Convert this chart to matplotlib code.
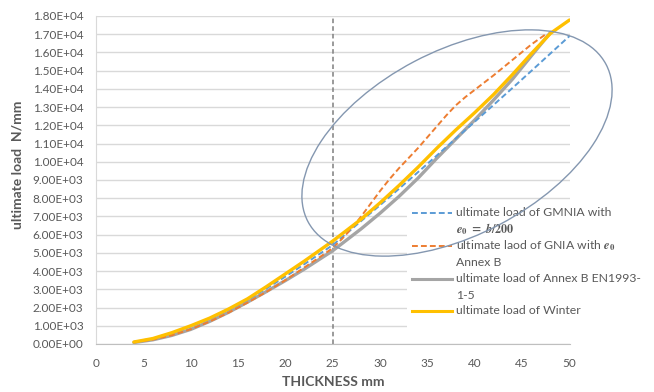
import matplotlib
matplotlib.use("Agg")
import matplotlib.pyplot as plt
from matplotlib.patches import Ellipse, Rectangle
from matplotlib.lines import Line2D
from matplotlib.transforms import IdentityTransform
from matplotlib.ticker import FuncFormatter, MultipleLocator

# ---- data (thickness in mm, ultimate load in N/mm) ----
thickness = [4, 6, 8, 10, 12, 14, 16, 18, 20, 22, 25, 28, 30, 32, 34, 36, 38,
             40, 42, 44, 46, 48, 50]
gmnia_b200 = [120, 300, 590, 960, 1380, 1870, 2420, 3050, 3700, 4380, 5430,
              6750, 7620, 8520, 9430, 10350, 11280, 12200, 13130, 14060,
              15000, 15950, 16900]
winter = [110, 300, 620, 1000, 1420, 1920, 2480, 3150, 3850, 4550, 5650,
          6850, 7750, 8700, 9700, 10750, 11750, 12700, 13700, 14800, 15950,
          17050, 17780]

thickness_annex = [4, 6, 8, 10, 12, 14, 16, 18, 20, 22, 25, 28, 30, 32, 34,
                   36, 38, 40, 42, 44, 46, 48]
annex_b = [80, 230, 470, 800, 1240, 1740, 2300, 2880, 3480, 4110, 5120, 6320,
           7180, 8100, 9100, 10200, 11250, 12300, 13400, 14550, 15830, 17100]

thickness_gnia = [4, 6, 8, 10, 12, 14, 16, 18, 20, 22, 24, 25, 26, 27, 28, 29,
                  30, 31, 32, 33, 34, 35, 36, 37, 38, 39, 40, 41, 42, 44, 46,
                  47.5]
gnia_annex_b = [90, 240, 480, 810, 1230, 1720, 2270, 2860, 3500, 4200, 4900,
                5270, 5780, 6350, 7000, 7700, 8400, 9050, 9650, 10200, 10750,
                11350, 11950, 12550, 13100, 13550, 13950, 14350, 14750, 15600,
                16450, 17000]

reference_thickness = 25

E0 = r"\mathbfit{e}_{\mathbf{0}}"
legend_labels = [
    ["ultimate load of GMNIA with", r"$" + E0 + r"\mathbf{\ =\ }\mathbfit{b}\mathbf{/200}$"],
    [r"ultimate laod of GNIA with $" + E0 + r"$", "Annex B"],
    ["ultimate load of Annex B EN1993-", "1-5"],
    ["ultimate load of Winter"],
]

# ---- style ----
W, H = 654, 392
plt.rcParams["font.family"] = ["Lato", "DejaVu Sans"]
plt.rcParams["mathtext.fontset"] = "stix"
text_color = "#595959"
c_blue, c_orange, c_gray, c_yellow = "#5b9bd5", "#ed7d31", "#a5a5a5", "#ffc000"

fig = plt.figure(figsize=(W / 100, H / 100), dpi=100)


def fx(px):
    return px / W


def fy(py):
    return 1 - py / H


ax = fig.add_axes([fx(96), fy(344), fx(569.5) - fx(96), fy(16) - fy(344)])
ax.set_xlim(0, 50)
ax.set_ylim(0, 18000)
ax.xaxis.set_major_locator(MultipleLocator(5))
ax.yaxis.set_major_locator(MultipleLocator(1000))
ax.yaxis.set_major_formatter(FuncFormatter(lambda v, p: "{:.2E}".format(v)))
ax.grid(axis="y", color="#d9d9d9", linewidth=1.0)
ax.set_axisbelow(True)
for side in ("top", "right"):
    ax.spines[side].set_visible(False)
ax.spines["left"].set_color("#d9d9d9")
ax.spines["bottom"].set_color("#bfbfbf")
ax.tick_params(axis="both", length=0, colors=text_color, labelsize=8.5)
ax.tick_params(axis="x", pad=10)
ax.tick_params(axis="y", pad=9)

ax.axvline(reference_thickness, color="#7f7f7f", linestyle=(0, (3, 2)),
           linewidth=1.1, zorder=1)

ax.plot(thickness, gmnia_b200, color=c_blue, linewidth=1.4,
        linestyle=(0, (3, 1.6)), zorder=3)
ax.plot(thickness_gnia, gnia_annex_b, color=c_orange, linewidth=1.4,
        linestyle=(0, (3, 1.6)), zorder=3)
ax.plot(thickness_annex, annex_b, color=c_gray, linewidth=2.4, zorder=2.5,
        solid_capstyle="round")
ax.plot(thickness, winter, color=c_yellow, linewidth=2.4, zorder=4,
        solid_capstyle="round")

# axis titles
fig.text(fx(18), fy(165), "ultimate load  N/mm", rotation=90, ha="center",
         va="center", fontsize=10, fontweight="bold", color=text_color)
fig.text(fx(333), fy(382), "THICKNESS mm", ha="center", va="center",
         fontsize=10, fontweight="bold", color=text_color)

# legend box
fig.patches.append(Rectangle((fx(407), fy(333)), fx(654) - fx(407),
                             fy(205) - fy(333), transform=fig.transFigure,
                             facecolor="white", edgecolor="none", zorder=5))
line_styles = [
    dict(color=c_blue, linewidth=1.4, linestyle=(0, (3, 1.6))),
    dict(color=c_orange, linewidth=1.4, linestyle=(0, (3, 1.6))),
    dict(color=c_gray, linewidth=2.2),
    dict(color=c_yellow, linewidth=2.2),
]
entry_y = [213, 246, 279, 311]
for y0, lines, st in zip(entry_y, legend_labels, line_styles):
    fig.lines.append(Line2D([fx(412), fx(452)], [fy(y0), fy(y0)],
                            transform=fig.transFigure, zorder=6, **st))
    for k, s in enumerate(lines):
        fig.text(fx(456), fy(y0 + 16.5 * k), s, ha="left", va="center",
                 fontsize=8.8, color=text_color, zorder=6)

# highlight ellipse around the thick-plate range
fig.patches.append(Ellipse((457, H - 143), 337, 184, angle=27.8,
                           transform=IdentityTransform(), fill=False,
                           edgecolor="#8497b0", linewidth=1.0, zorder=7))

fig.savefig("out.png", dpi=100, facecolor="white")
